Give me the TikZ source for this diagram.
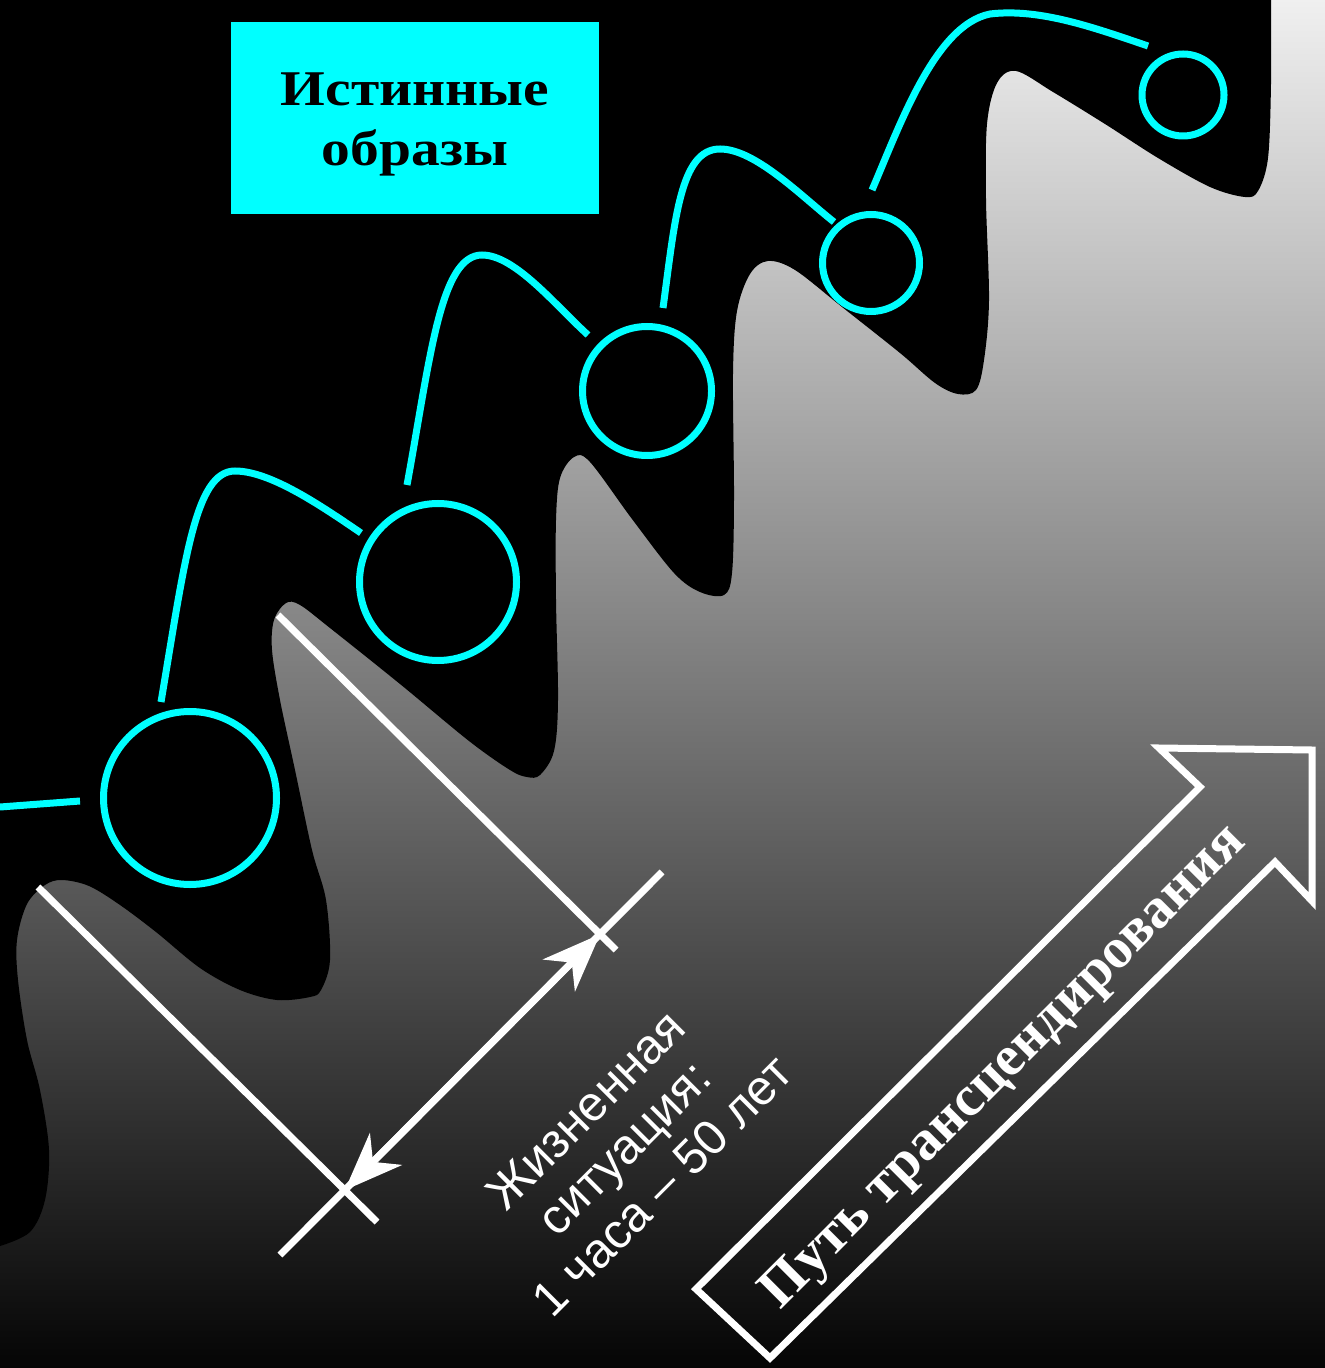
\documentclass[tikz,border=0pt]{standalone}
\usepackage{fontspec}
\setmainfont{Liberation Serif}
\setsansfont{Liberation Sans}
\usetikzlibrary{arrows.meta,calc}
\definecolor{topgray}{gray}{0.94}
\definecolor{botgray}{gray}{0.02}
\definecolor{aqua}{RGB}{0,255,255}
\begin{document}
\begin{tikzpicture}[x=0.5pt,y=-0.5pt,
  cyanline/.style={draw=aqua, line width=3.5pt},
  whiteline/.style={draw=white, line width=3.5pt},
  ring/.style={circle, draw=aqua, line width=3.5pt, inner sep=0pt},
  dimtip/.style={-{Stealth[length=29pt, width=22.5pt, inset=9pt]}}
]
\useasboundingbox (0,0) rectangle (1325,1368);
% background gradient
\shade[top color=topgray, bottom color=botgray] (0,0) rectangle (1325,1368);
% black region
\fill[black] (0,0) -- (0,1246) -- plot[smooth, tension=0.55] coordinates {
 (0,1246) (30,1232) (45,1200) (49,1150) (40,1090) (27,1040) (18,980) (17,940)
 (27,904) (45,885) (62,880) (89,886) (120,905) (156,932) (200,968) (240,990)
 (277,1000) (310,997) (321,990) (330,960) (326,900) (312,850) (295,770)
 (280,700) (272,650) (274,620) (286,603) (300,605) (330,628) (400,684)
 (469,741) (510,770) (527,777) (540,775) (554,751) (558,700) (556,600)
 (556,520) (560,478) (574,457) (590,462) (632,519) (674,573) (700,592)
 (724,595) (732,573) (734,498) (733,373) (737,311) (750,274) (768,261)
 (795,270) (842,307) (900,353) (935,383) (958,394) (976,390) (984,360)
 (989,300) (986,200) (987,124) (997,83) (1016,71) (1053,92) (1105,124)
 (1158,158) (1210,187) (1245,197) (1258,191) (1268,158) (1271,83) (1271,0)}
 -- cycle;
% title box
\node[fill=aqua, minimum width=184pt, minimum height=96pt, inner sep=0pt]
  (titlebox) at (415,118) {};
\node[align=center, text=black, inner sep=0pt, xscale=1.15,
  font=\bfseries\fontsize{25}{30}\selectfont]
  (title) at (415,124) {Истинные\\образы};
% rings
\node[ring, minimum size=86.5pt] (c1) at (190,798) {};
\node[ring, minimum size=78.5pt] (c2) at (438,582) {};
\node[ring, minimum size=64.5pt] (c3) at (647,391) {};
\node[ring, minimum size=48.5pt] (c4) at (871,263) {};
\node[ring, minimum size=41pt] (c5) at (1183,95) {};
% cyan paths
\draw[cyanline] (0,807) -- (80,801);
\draw[cyanline] (161,702) .. controls (185,560) and (195,471) .. (235,471)
  .. controls (270,471) and (320,505) .. (361,533);
\draw[cyanline] (407,485) .. controls (430,360) and (440,255) .. (482,255)
  .. controls (515,255) and (555,305) .. (588,335);
\draw[cyanline] (663,308) .. controls (675,220) and (680,149) .. (720,149)
  .. controls (755,149) and (800,195) .. (834,222);
\draw[cyanline] (872,190) .. controls (900,125) and (935,25) .. (990,14)
  .. controls (1040,8) and (1095,28) .. (1148,46);
% dimension
\coordinate (e1a) at (278,615);
\coordinate (e1b) at (616,950);
\coordinate (e2a) at (38,887);
\coordinate (e2b) at (377,1222);
\coordinate (da) at (280,1255);
\coordinate (db) at (662,872);
\draw[whiteline] (e1a) -- (e1b);
\draw[whiteline] (e2a) -- (e2b);
\draw[whiteline] (da) -- (db);
\coordinate (p1) at (intersection of e1a--e1b and da--db);
\coordinate (p2) at (intersection of e2a--e2b and da--db);
\coordinate (pm) at ($(p1)!0.5!(p2)$);
\draw[whiteline, dimtip] (pm) -- (p1);
\draw[whiteline, dimtip] (pm) -- (p2);
\node[rotate=45, align=center, text=white, inner sep=0pt,
  font=\sffamily\fontsize{24.5}{27}\selectfont] (life) at (624,1148)
  {Жизненная\\ситуация:\\1 часа – 50 лет};
% big arrow
\draw[whiteline, line join=miter] (696,1289) -- (1200,787) -- (1159,748) -- (1312,750)
  -- (1312,901) -- (1275,862) -- (770,1358) -- cycle;
\node[rotate=45, text=white, inner sep=0pt,
  font=\bfseries\fontsize{28.5}{30}\selectfont] (path) at (1005,1068)
  {Путь трансцендирования};
\end{tikzpicture}
\end{document}
